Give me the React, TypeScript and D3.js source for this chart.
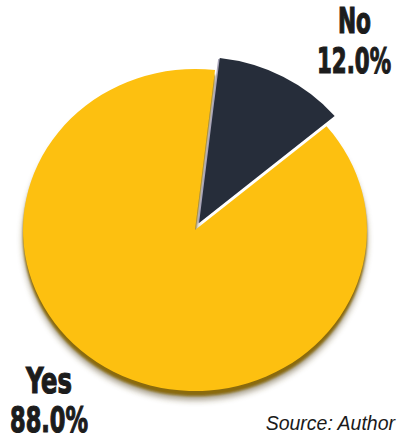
import React from "react";
import * as d3 from "d3";

const categories = ["No", "Yes"];
const values = [12.0, 88.0];
const labels = ["12.0%", "88.0%"];
const colors = ["#262d3a", "#fdc010"];

const W = 398;
const H = 435;

export default function App() {
  const cx = 195;
  const cy = 230;
  const r = 161;
  const sx = 1.068;
  const start = (6.7 * Math.PI) / 180;
  const pie = d3
    .pie<number>()
    .sort(null)
    .startAngle(start)
    .endAngle(start + 2 * Math.PI);
  const arcs = pie(values);
  const arcYes = d3.arc<any>().innerRadius(0).outerRadius(r);
  const arcNo = d3.arc<any>().innerRadius(0).outerRadius(166);
  const no = arcs[0];
  const yes = arcs[1];
  const mid = (no.startAngle + no.endAngle) / 2;
  const d = 8;
  const ox = Math.sin(mid) * d;
  const oy = -Math.cos(mid) * d;
  const font = "'DejaVu Sans Condensed', 'Liberation Sans Narrow', sans-serif";
  const Label = ({
    x,
    y,
    text,
    w,
  }: {
    x: number;
    y: number;
    text: string;
    w: number;
  }) => (
    <text
      x={x - w / 2}
      y={y}
      textLength={w}
      lengthAdjust="spacingAndGlyphs"
      fontFamily={font}
      fontWeight={700}
      fontSize={36}
      fill="#1c1c1c"
      stroke="#1c1c1c"
      strokeWidth={1.2}
    >
      {text}
    </text>
  );
  return (
    <svg
      width={W}
      height={H}
      style={{ position: "absolute", left: 0, top: 0, background: "#fff" }}
    >
      <defs>
        <filter id="blur" x="-20%" y="-20%" width="140%" height="140%">
          <feGaussianBlur stdDeviation="3" />
        </filter>
        <filter id="blur1" x="-20%" y="-20%" width="140%" height="140%">
          <feGaussianBlur stdDeviation="1" />
        </filter>
      </defs>
      <g transform={`translate(${cx},${cy}) scale(${sx},1)`}>
        <path
          d={arcYes(yes) as string}
          transform="translate(0,9)"
          fill="#5a4a20"
          opacity={0.55}
          filter="url(#blur)"
        />
        <path
          d={arcYes(yes) as string}
          transform="translate(0,5)"
          fill="#8a6a08"
          filter="url(#blur1)"
        />
        <path d={arcYes(yes) as string} fill={colors[1]} />
        <g transform={`translate(${ox},${oy})`}>
          <path
            d={arcNo(no) as string}
            transform="translate(-1.5,1)"
            fill="#a8a4b8"
          />
          <path d={arcNo(no) as string} fill={colors[0]} />
        </g>
      </g>
      <Label x={354.5} y={33} text={categories[0]} w={33} />
      <Label x={354} y={73} text={labels[0]} w={74} />
      <Label x={49} y={393} text={categories[1]} w={46} />
      <Label x={49} y={432} text={labels[1]} w={78} />
      <text
        x={395}
        y={430}
        textAnchor="end"
        fontFamily="'Liberation Sans', Arial, sans-serif"
        fontStyle="italic"
        fontSize={19.5}
        fill="#1a1a1a"
      >
        Source: Author
      </text>
    </svg>
  );
}
